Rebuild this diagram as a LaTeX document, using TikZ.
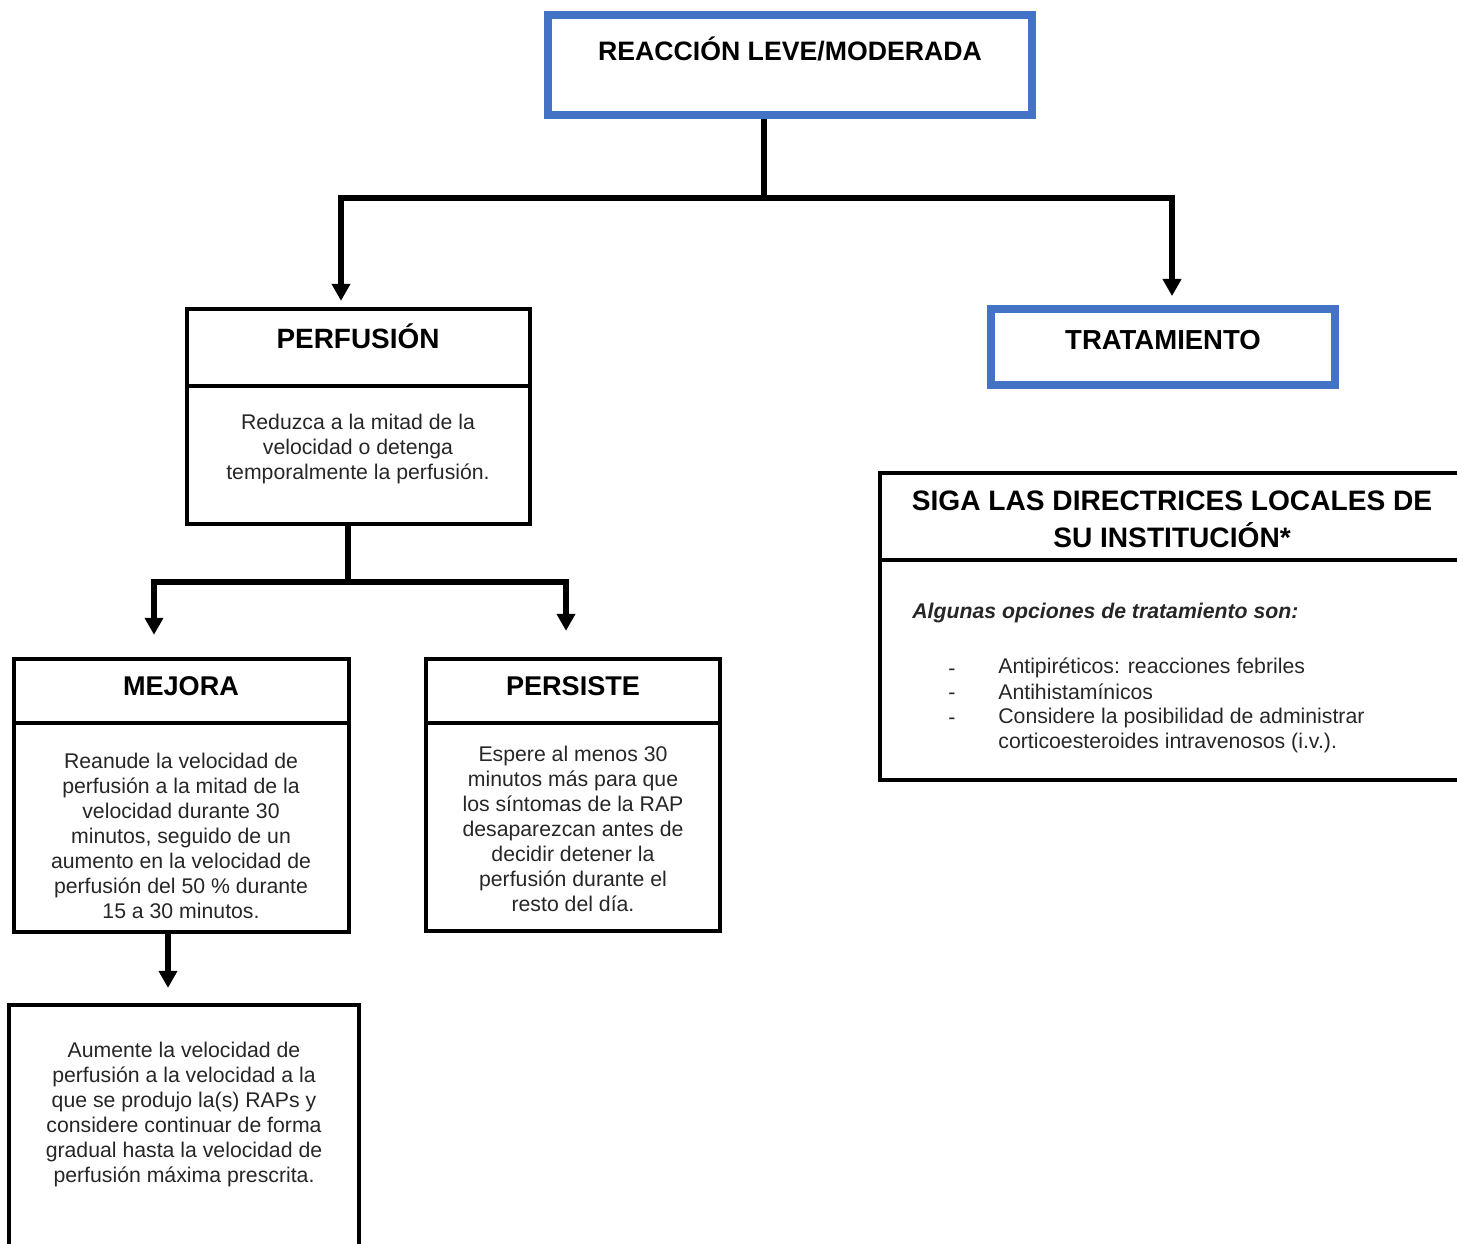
\documentclass[tikz,border=0pt]{standalone}
\usepackage{fontspec}
\setmainfont{Liberation Sans}
\usetikzlibrary{arrows.meta,fit}
\definecolor{boxblue}{HTML}{4472C4}

\begin{document}
\begin{tikzpicture}[x=0.48pt, y=-0.48pt,
        bluebox/.style={draw=boxblue, line width=3.8pt, inner sep=0pt},
        blackbox/.style={draw=black, line width=2pt, inner sep=0pt},
        head/.style={font=\fontsize{13}{15}\selectfont\bfseries},
        body/.style={font=\fontsize{10.2}{12}\selectfont, align=center, text=black!85},
        conn/.style={line width=2.5pt},
        arr/.style={conn, -{Triangle[width=8.6pt,length=8.2pt]}}]
        \useasboundingbox (0,0) rectangle (1457,1244);
        \clip (0,0) rectangle (1457,1244);
        % top box
        \node[bluebox, fit={(548,15) (1032,115)}] (reac) {};
        \node[head, font=\fontsize{12.8}{15}\selectfont\bfseries] (reactext) at (790,49) {REACCIÓN LEVE/MODERADA};
        % perfusion
        \node[blackbox, fit={(187,309) (530,386)}] (perfhead) {};
        \node[blackbox, fit={(187,386) (530,524)}] (perfbody) {};
        \node[head, font=\fontsize{13.4}{15}\selectfont\bfseries] (perftext) at (358,336) {PERFUSIÓN};
        \node[body] (perfinfo) at (358,449) {Reduzca a la mitad de la\\velocidad o detenga\\temporalmente la perfusión.};
        % treatment
        \node[bluebox, fit={(991,309) (1335,385)}] (trat) {};
        \node[head, font=\fontsize{13.2}{15}\selectfont\bfseries] (trattext) at (1163,340) {TRATAMIENTO};
        \node[blackbox, fit={(880,473) (1480,560)}] (sigahead) {};
        \node[blackbox, fit={(880,560) (1480,780)}] (sigabody) {};
        \node[head, font=\fontsize{13.5}{17.8}\selectfont\bfseries, align=center] (sigatext) at (1172,519) {SIGA LAS DIRECTRICES LOCALES DE\\SU INSTITUCIÓN*};
        \node[body, font=\fontsize{10.2}{12}\selectfont\bfseries\itshape, anchor=west] (opciones) at (905,613) {Algunas opciones de tratamiento son:};
        \node[body, anchor=center] (dash1) at (952,672) {-};
        \node[body, anchor=center] (dash2) at (952,696) {-};
        \node[body, anchor=center] (dash3) at (952,721) {-};
        \node[body, align=left, anchor=west] (item1) at (991,668) {Antipiréticos: reacciones febriles};
        \node[body, align=left, anchor=west] (item2) at (991,692) {Antihistamínicos};
        \node[body, align=left, anchor=west] (item3) at (991,730) {Considere la posibilidad de administrar\\corticoesteroides intravenosos (i.v.).};
        % improves / persists
        \node[blackbox, fit={(14,659) (349,723)}] (mejhead) {};
        \node[blackbox, fit={(14,723) (349,932)}] (mejbody) {};
        \node[head] (mejtext) at (181,686) {MEJORA};
        \node[body] (mejinfo) at (181,836) {Reanude la velocidad de\\perfusión a la mitad de la\\velocidad durante 30\\minutos, seguido de un\\aumento en la velocidad de\\perfusión del 50 \% durante\\15 a 30 minutos.};
        \node[blackbox, fit={(426,659) (720,723)}] (pershead) {};
        \node[blackbox, fit={(426,723) (720,931)}] (persbody) {};
        \node[head] (perstext) at (573,686) {PERSISTE};
        \node[body] (persinfo) at (573,829) {Espere al menos 30\\minutos más para que\\los síntomas de la RAP\\desaparezcan antes de\\decidir detener la\\perfusión durante el\\resto del día.};
        % last step
        \node[blackbox, fit={(9,1005) (359,1280)}] (final) {};
        \node[body] (finalinfo) at (184,1114) {Aumente la velocidad de\\perfusión a la velocidad a la\\que se produjo la(s) RAPs y\\considere continuar de forma\\gradual hasta la velocidad de\\perfusión máxima prescrita.};
        % connectors
        \coordinate (j1) at (764,198);
        \coordinate (j2) at (348,582);
        \draw[conn] (reac.south -| j1) -- (j1);
        \draw[arr, shorten >=2.9pt] (j1) -| (341,0 |- perfhead.north);
        \draw[arr, shorten >=4.3pt] (j1) -| (1172,0 |- trat.north);
        \draw[conn] (perfbody.south -| j2) -- (j2);
        \draw[arr, shorten >=10.6pt] (j2) -| (154,0 |- mejhead.north);
        \draw[arr, shorten >=12.5pt] (j2) -| (566,0 |- pershead.north);
        \draw[arr, shorten >=7.2pt] (168,0 |- mejbody.south) -- (168,0 |- final.north);
\end{tikzpicture}
\end{document}
